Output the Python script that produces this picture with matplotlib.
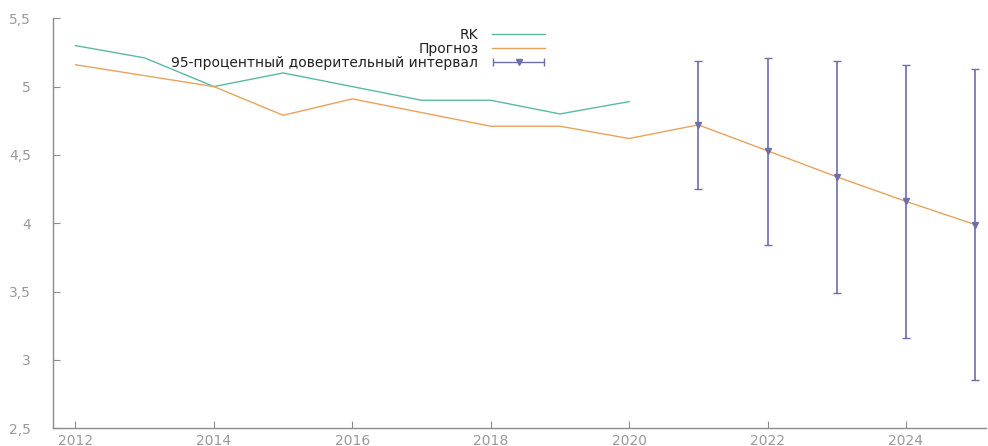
import numpy as np
import matplotlib
matplotlib.use("Agg")
import matplotlib.pyplot as plt
from matplotlib.ticker import FuncFormatter
from matplotlib.container import ErrorbarContainer
from matplotlib.legend_handler import HandlerErrorbar
from matplotlib.lines import Line2D
from matplotlib.collections import LineCollection

# data
rk_years = [2012, 2013, 2014, 2015, 2016, 2017, 2018, 2019, 2020]
rk_values = [5.30, 5.21, 5.00, 5.10, 5.00, 4.90, 4.90, 4.80, 4.89]

fc_years = [2012, 2013, 2014, 2015, 2016, 2017, 2018, 2019, 2020,
            2021, 2022, 2023, 2024, 2025]
fc_values = [5.16, 5.08, 5.00, 4.79, 4.91, 4.81, 4.71, 4.71, 4.62,
             4.72, 4.53, 4.34, 4.16, 3.99]

ci_years = [2021, 2022, 2023, 2024, 2025]
ci_low = [4.25, 3.84, 3.49, 3.16, 2.85]
ci_high = [5.19, 5.21, 5.19, 5.16, 5.13]

labels = ["RK", "Прогноз", "95-процентный доверительный интервал"]
xticks = [2012, 2014, 2016, 2018, 2020, 2022, 2024]
yticks = [2.5, 3, 3.5, 4, 4.5, 5, 5.5]

c_rk = "#5bb8a6"
c_fc = "#e8a35c"
c_ci = "#6e6ea8"
c_axis = "#8c8c8c"

plt.rcParams['font.family'] = ['DejaVu Sans']

fig = plt.figure(figsize=(9.88, 4.46), dpi=100)
ax = fig.add_axes([0.054, 0.040, 0.9435, 0.919])

ax.plot(rk_years, rk_values, color=c_rk, lw=1.0, label=labels[0])
ax.plot(fc_years, fc_values, color=c_fc, lw=1.0, label=labels[1])

# error bars around forecast points
ci_mid = [fc_values[fc_years.index(y)] for y in ci_years]
ci_mid = np.array(ci_mid)
yerr = [ci_mid - np.array(ci_low), np.array(ci_high) - ci_mid]
ax.errorbar(ci_years, ci_mid, yerr=yerr, fmt='v', color=c_ci, ms=5,
            elinewidth=1.2, capsize=3, capthick=1.0, zorder=3)

# legend entry drawn horizontally, like the original
data_line = Line2D([], [], color=c_ci, marker='v', ms=5, ls='none')
cap_line = Line2D([], [], color=c_ci, marker='|', ms=6, ls='none')
bar_col = LineCollection([], colors=c_ci, linewidths=1.0)
proxy = ErrorbarContainer((data_line, (cap_line,), (bar_col,)),
                          has_xerr=True, has_yerr=False, label=labels[2])

handles, _ = ax.get_legend_handles_labels()
handles = handles + [proxy]
leg = ax.legend(handles, labels, loc='upper right', bbox_to_anchor=(0.538, 1.0),
                frameon=False, markerfirst=False, fontsize=10,
                labelspacing=0.0, handlelength=3.8, handletextpad=1.0,
                borderpad=0.2, labelcolor="#222222",
                handler_map={ErrorbarContainer: HandlerErrorbar(xerr_size=1.85)})

ax.set_xlim(2011.68, 2025.15)
ax.set_ylim(2.5, 5.5)
ax.set_xticks(xticks)
ax.set_yticks(yticks)
ax.yaxis.set_major_formatter(FuncFormatter(lambda v, p: f"{v:g}".replace('.', ',')))

for s in ['top', 'right']:
    ax.spines[s].set_visible(False)
for s in ['left', 'bottom']:
    ax.spines[s].set_color(c_axis)
    ax.spines[s].set_linewidth(1.0)
ax.tick_params(direction='in', length=5, color=c_axis, labelcolor="#999999",
               labelsize=10)
ax.tick_params(axis='x', pad=4)
ax.tick_params(axis='y', pad=16)

fig.savefig("out.png", dpi=100)
